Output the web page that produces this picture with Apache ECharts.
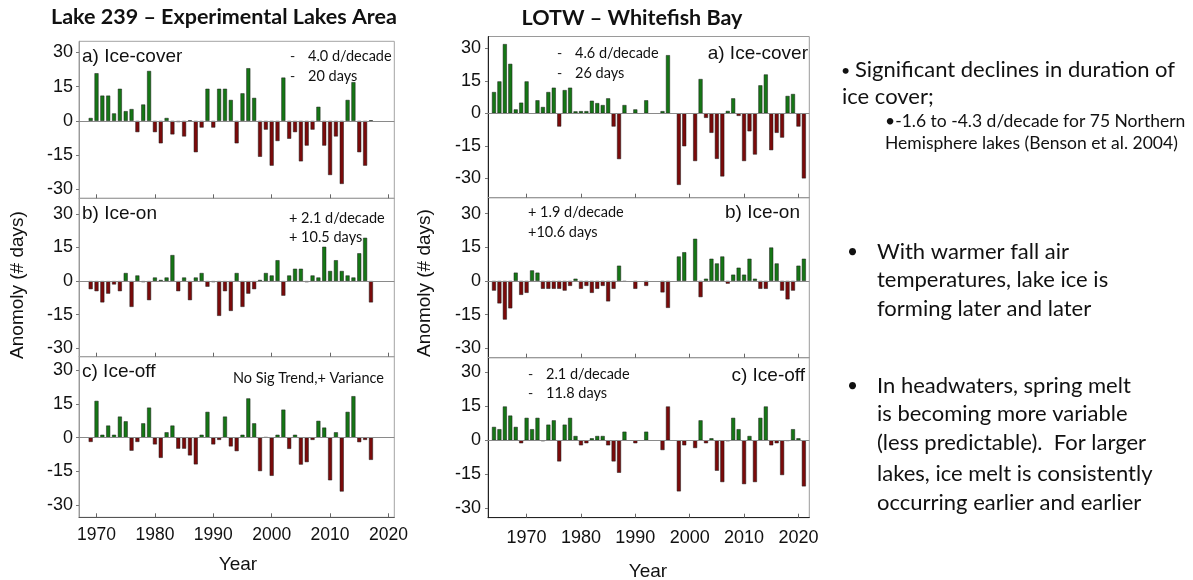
<!DOCTYPE html>
<html>
<head>
<meta charset="utf-8">
<script src="https://cdn.jsdelivr.net/npm/echarts@6/dist/echarts.min.js"></script>
<style>
  html, body { margin: 0; padding: 0; background: #fff; }
  #chart { width: 1193px; height: 580px; }
</style>
</head>
<body>
<div id="chart"></div>
<script>
// Lake 239 (Experimental Lakes Area), 1969-2017, anomalies in days
const firstYear239 = 1969;
const iceCover239 = [1.3, 20.9, 11.1, 11.1, 3.3, 14.1, 4.3, 5.2, -4.9, 7.2, 21.9, -4.9, -9.8, 1.3, -5.9, -0.5, -6.8, 0.3, -13.7, -2.9,
  14.1, -2.9, 14.1, 14.1, 9.2, -9.8, 12.1, 23.1, 10.1, -15.7, -3.8, -19.6, -8.8, 19, -7.8, -4.9, -17.7, -10.8, -3.8, 6.2,
  -10.8, -23.7, -6.8, -27.6, 9.2, 17, -13.7, -19.6, 0.3];
const iceOn239 = [-3.6, -4.5, -9.5, -5.6, -1.5, -4.5, 3.6, -11.5, 2.5, -0.5, -8.5, 1.6, 0.5, 1.6, 11.6, -4.5, 1.6, -8.5, 1.6, 3.6,
  -2.5, -0.5, -15.5, -4.5, -13.3, 3.6, -11.5, -5.6, -3.6, 0.5, 3.6, 2.5, 9.3, -6.5, 2.5, 5.5, 5.5, -0.5, 2.5, 1.6,
  15.3, 4.5, 9.3, 4.5, 2.5, 1.6, 12.4, 19.3, -9.5];
const iceOff239 = [-1.9, 16.4, 1.3, 5.4, 1.3, 9.4, 7.3, -5.8, -1.9, 6.4, 13.4, -3, -9, 2.4, 5.4, -4.9, -4.9, -7.9, -11.9, 1.3,
  11.5, -3, -1, 9.4, -3.9, -6, 1.3, 17.5, 6.4, -14.9, 0.3, -17, 1.3, 12.5, -5, 1.3, -12, -10.9, -1, 7.5,
  4.5, -19, 2.4, -24, 11.5, 18.5, -2, -1, -9.9];

// Lake of the Woods, Whitefish Bay, 1964-2021 (null = no record)
const firstYearLotw = 1964;
const iceCoverLotw = [9.8, 14.7, 31.9, 22.8, 1.8, 4.9, 14.7, null, 6, 2.9, 9.8, 11.8, -6.1, 10.7, 11.8, 0.9, 1, 1, 5.8, 4.7,
  3.8, 6.9, -6.1, -21.1, 3.8, null, 1.8, null, 6, null, null, 1, 26.8, null, -33, -15.2, null, -22, 15.8, -2.1,
  -9, -21, -29.1, 1.1, 6.9, -1.2, -22, -8.3, -19, 12.9, 17.9, -17, -9, -11.2, 8, 8.9, -6.1, -30];
const iceOnLotw = [-4.3, -10, -17.2, -12.2, 3.7, -6.2, -5.3, 4.7, 3.7, -3.5, -3.5, -3.5, -3.5, -4.3, -2.2, 1, -3.5, -2.2, -5.3, -3.5,
  -2.2, -9.1, -3.5, 6.8, -0.3, null, -3.5, null, -2.2, null, null, -5.1, -12, null, 10.9, 12.8, null, 18.8, -7.2, 1,
  9.9, 7.8, 10.9, -1.2, 2.8, 5.9, 2.8, 9.9, 1, -3.5, -3.5, 14.9, 7.8, -4.3, -8.2, -4.3, 6.8, 9.9];
const iceOffLotw = [5.9, 4.9, 14.9, 10.9, 5.9, -1.3, 9.9, 4.9, 9.9, -0.4, 6.9, 8.8, -9.3, 6.9, 9.9, 1.9, -2.2, -1.3, 0.9, 1.9,
  1.9, -2.2, -9.3, -14.3, 3.8, null, -1.3, null, 3.8, null, null, -4.3, 14.9, null, -22.5, -2.2, null, -3.4, 8.8, -1.3,
  0.9, -13.4, -18.4, -0.4, 9.9, 4.9, -19.3, 1.9, -18.4, 9.9, 14.9, -2.2, -1.3, -15.3, -0.3, 4.9, 0.9, -20.3];

// Axis labels
const yearTicks = [1970, 1980, 1990, 2000, 2010, 2020];
const dayTicks = [-30, -15, 0, 15, 30];

const GREEN = '#157615';
const RED = '#7a0a0a';
// the 1996 ice-off bar at Whitefish Bay is drawn in the "early" colour
const redExceptions = { lotwOff: [1996] };

function pairs(first, vals) {
  const out = [];
  vals.forEach((v, i) => { if (v !== null) out.push([first + i, v]); });
  return out;
}

const panels = [
  { first: firstYear239, vals: iceCover239, key: 'c239', grid: { left: 79, top: 41.3, width: 315.3, height: 157 }, x: [1967, 2021], y: [-33.9, 34.9], bottom: false, side: 'left' },
  { first: firstYear239, vals: iceOn239, key: 'on239', grid: { left: 79, top: 198.3, width: 315.3, height: 158.4 }, x: [1967, 2021], y: [-33.7, 36.9], bottom: false, side: 'left' },
  { first: firstYear239, vals: iceOff239, key: 'off239', grid: { left: 79, top: 356.7, width: 315.3, height: 160.6 }, x: [1967, 2021], y: [-35.5, 36.1], bottom: true, side: 'left' },
  { first: firstYearLotw, vals: iceCoverLotw, key: 'lotwCover', grid: { left: 488, top: 36.5, width: 321.3, height: 161.2 }, x: [1962.9, 2022], y: [-38.9, 35.4], bottom: false, side: 'right' },
  { first: firstYearLotw, vals: iceOnLotw, key: 'lotwOn', grid: { left: 488, top: 197.7, width: 321.3, height: 160 }, x: [1962.9, 2022], y: [-34.2, 37.1], bottom: false, side: 'right' },
  { first: firstYearLotw, vals: iceOffLotw, key: 'lotwOff', grid: { left: 488, top: 357.7, width: 321.3, height: 160 }, x: [1962.9, 2022], y: [-34.1, 36.4], bottom: true, side: 'right' }
];

const grid = [], xAxis = [], yAxis = [], series = [];
panels.forEach((p, i) => {
  const dark = p.side === 'right';
  grid.push(Object.assign({ show: true, borderColor: dark ? '#9a9a9a' : '#a3a3a3', borderWidth: 1, backgroundColor: 'transparent' }, p.grid));
  xAxis.push({
    type: 'value', gridIndex: i, min: p.x[0], max: p.x[1],
    axisLine: { show: true, onZero: false, lineStyle: { color: dark ? (p.bottom ? '#222' : '#9a9a9a') : (p.bottom ? '#555' : '#a3a3a3'), width: 1 } },
    axisTick: { show: true, inside: true, length: 4, customValues: yearTicks, lineStyle: { color: '#666' } },
    axisLabel: { show: p.bottom, customValues: yearTicks, formatter: (v) => String(Math.round(v)), fontFamily: 'Liberation Sans', fontSize: dark ? 18 : 17.5, color: '#111', margin: dark ? 11 : 9 },
    splitLine: { show: false }
  });
  yAxis.push({
    type: 'value', gridIndex: i, min: p.y[0], max: p.y[1],
    axisLine: { show: true, lineStyle: { color: dark ? '#222' : '#9a9a9a', width: 1 } },
    axisTick: { show: true, length: 3, customValues: dayTicks, lineStyle: { color: '#777' } },
    axisLabel: { customValues: dayTicks, formatter: (v) => String(Math.round(v)), fontFamily: 'Liberation Sans', fontSize: 18, color: '#111', margin: dark ? 7 : 6 },
    splitLine: { show: false }
  });
  const exc = redExceptions[p.key] || [];
  series.push({
    type: 'bar', xAxisIndex: i, yAxisIndex: i, barWidth: 4,
    data: pairs(p.first, p.vals),
    itemStyle: {
      color: (d) => (d.value[1] < 0 || exc.indexOf(d.value[0]) >= 0) ? RED : GREEN,
      borderColor: '#1b1b1b', borderWidth: 0.5
    },
    markLine: {
      silent: true, symbol: ['none', 'none'], label: { show: false },
      lineStyle: { color: '#8a8a8a', width: 1, type: 'solid' },
      data: [{ yAxis: 0 }]
    },
    animation: false
  });
});

function txt(x, y, text, font, opts) {
  return {
    type: 'text', x: x, y: y,
    style: Object.assign({ text: text, font: font, fill: '#111', textAlign: 'left', textVerticalAlign: 'middle' }, opts || {})
  };
}
const ARIAL = '"Liberation Sans", Arial, sans-serif';
const CAL = 'Lato, "Noto Sans", sans-serif';

const graphic = [
  txt(224, 17, 'Lake 239 – Experimental Lakes Area', 'bold 21.5px ' + CAL, { textAlign: 'center' }),
  txt(632, 18, 'LOTW – Whitefish Bay', 'bold 21.5px ' + CAL, { textAlign: 'center' }),
  // panel tags
  txt(82, 57, 'a) Ice-cover', '19px ' + ARIAL),
  txt(82, 214, 'b) Ice-on', '19px ' + ARIAL),
  txt(82, 372, 'c) Ice-off', '19px ' + ARIAL),
  txt(808, 54, 'a) Ice-cover', '19px ' + ARIAL, { textAlign: 'right' }),
  txt(800, 213, 'b) Ice-on', '19px ' + ARIAL, { textAlign: 'right' }),
  txt(805, 376, 'c) Ice-off', '19px ' + ARIAL, { textAlign: 'right' }),
  // trend notes
  txt(290, 56, '-', '14px ' + CAL), txt(308, 56, '4.0 d/decade', '14.5px ' + CAL),
  txt(290, 76, '-', '14px ' + CAL), txt(308, 76, '20 days', '14.5px ' + CAL),
  txt(289, 218, '+ 2.1 d/decade', '14.5px ' + CAL),
  txt(289, 237, '+ 10.5 days', '14.5px ' + CAL),
  txt(233, 378, 'No Sig Trend,+ Variance', '14.5px ' + CAL),
  txt(557, 53, '-', '14px ' + CAL), txt(575, 53, '4.6 d/decade', '14.5px ' + CAL),
  txt(557, 73, '-', '14px ' + CAL), txt(575, 73, '26 days', '14.5px ' + CAL),
  txt(528, 212, '+ 1.9 d/decade', '14.5px ' + CAL),
  txt(528, 232, '+10.6 days', '14.5px ' + CAL),
  txt(528, 374, '-', '14px ' + CAL), txt(546, 374, '2.1 d/decade', '14.5px ' + CAL),
  txt(528, 393, '-', '14px ' + CAL), txt(546, 393, '11.8 days', '14.5px ' + CAL),
  // axis titles
  { type: 'text', x: 18, y: 285, rotation: Math.PI / 2, style: { text: 'Anomoly (# days)', font: '19px ' + ARIAL, fill: '#111', textAlign: 'center', textVerticalAlign: 'middle' } },
  { type: 'text', x: 425, y: 283, rotation: Math.PI / 2, style: { text: 'Anomoly (# days)', font: '19px ' + ARIAL, fill: '#111', textAlign: 'center', textVerticalAlign: 'middle' } },
  txt(238, 565, 'Year', '19px ' + ARIAL, { textAlign: 'center' }),
  txt(648, 572, 'Year', '19px ' + ARIAL, { textAlign: 'center' }),
  // side notes
  txt(841, 71, '•', '16px ' + CAL), txt(855, 70, 'Significant declines in duration of', '22px ' + CAL),
  txt(842, 97, 'ice cover;', '22px ' + CAL),
  txt(885, 121, '•-1.6 to -4.3 d/decade for 75 Northern', '17.5px ' + CAL),
  txt(885, 143, 'Hemisphere lakes (Benson et al. 2004)', '17.5px ' + CAL),
  txt(847, 252, '•', '19px ' + CAL), txt(877, 252, 'With warmer fall air', '22px ' + CAL),
  txt(877, 280, 'temperatures, lake ice is', '22px ' + CAL),
  txt(877, 309, 'forming later and later', '22px ' + CAL),
  txt(847, 386, '•', '19px ' + CAL), txt(877, 386, 'In headwaters, spring melt', '22px ' + CAL),
  txt(877, 414, 'is becoming more variable', '22px ' + CAL),
  txt(877, 443, '(less predictable).  For larger', '22px ' + CAL),
  txt(877, 474, 'lakes, ice melt is consistently', '22px ' + CAL),
  txt(877, 503, 'occurring earlier and earlier', '22px ' + CAL)
];

const chart = echarts.init(document.getElementById('chart'), null, { renderer: 'canvas' });
chart.setOption({
  animation: false,
  backgroundColor: '#fff',
  grid: grid, xAxis: xAxis, yAxis: yAxis, series: series,
  graphic: graphic
});
</script>
</body>
</html>
